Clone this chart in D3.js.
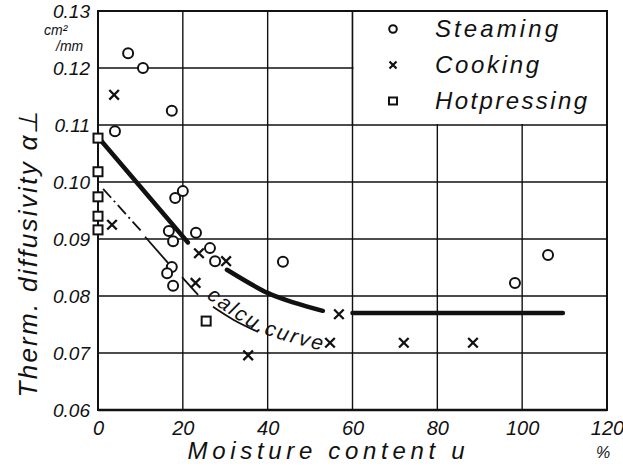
<!DOCTYPE html>
<html>
<head>
<meta charset="utf-8">
<script src="https://cdn.jsdelivr.net/npm/d3@7"></script>
<style>
  html, body { margin: 0; padding: 0; background: #fff; }
  svg text { font-family: "Liberation Sans", Arial, sans-serif; font-style: italic; fill: #111; }
</style>
</head>
<body>
<svg id="chart" width="623" height="470"></svg>
<script>
// Thermal diffusivity across the grain vs. moisture content
const xTicks = [0, 20, 40, 60, 80, 100, 120];
const yTicks = [0.06, 0.07, 0.08, 0.09, 0.10, 0.11, 0.12, 0.13];

// Steaming (circles)
const steamU = [7.1, 10.6, 17.4, 4.0, 18.2, 20.0, 23.1, 16.7, 17.7, 26.4, 27.6, 17.4, 16.3, 17.7, 43.6, 106.1, 98.3];
const steamV = [0.1226, 0.1200, 0.1125, 0.1089, 0.0972, 0.0984, 0.0911, 0.0914, 0.0896, 0.0884, 0.0861, 0.0851, 0.0840, 0.0818, 0.0860, 0.0872, 0.0823];

// Cooking (crosses)
const cookU = [3.8, 3.3, 23.8, 30.2, 23.0, 35.4, 56.8, 54.7, 72.1, 88.4];
const cookV = [0.1153, 0.0925, 0.0875, 0.0861, 0.0823, 0.0696, 0.0768, 0.0718, 0.0718, 0.0718];

// Hotpressing (squares)
const hotU = [0, 0, 0, 0, 0, 25.5];
const hotV = [0.1077, 0.1018, 0.0974, 0.0940, 0.0916, 0.0756];

// Measured trend, drawn in three heavy pieces
const trendA_U = [0.8, 21.2];
const trendA_V = [0.1072, 0.0894];
const trendB_U = [30.4, 40.1, 46.4, 53.0];
const trendB_V = [0.0846, 0.0805, 0.0788, 0.0774];
const trendC_U = [60, 109.6];
const trendC_V = [0.0770, 0.0770];

// Calculated curve: dash-dot start, then thin solid pieces
const calcDash_U = [1.2, 10.4];
const calcDash_V = [0.0988, 0.0912];
const calcSeg1_U = [11.1, 16.5];
const calcSeg1_V = [0.0904, 0.0858];
const calcSeg2_U = [19.8, 23.6];
const calcSeg2_V = [0.0833, 0.0802];
const calcSeg3_U = [27.1, 32, 37.7];
const calcSeg3_V = [0.0781, 0.0758, 0.0737];
// baseline for the curve's label
const calcLabel_U = [25.5, 37.7, 53.5];
const calcLabel_V = [0.0797, 0.0738, 0.0703];

const legendNames = ["Steaming", "Cooking", "Hotpressing"];

const svg = d3.select("#chart");
svg.append("rect").attr("width", 623).attr("height", 470).attr("fill", "#fff");

const x = d3.scaleLinear().domain([0, 120]).range([98, 607]);
const y = d3.scaleLinear().domain([0.06, 0.13]).range([410, 11]);
const zip = (us, vs) => us.map((u, i) => [u, vs[i]]);

// grid
const grid = svg.append("g").attr("stroke", "#111").attr("stroke-width", 1.4);
grid.selectAll("line.v").data(xTicks.slice(1, -1)).join("line")
  .attr("x1", d => x(d)).attr("x2", d => x(d)).attr("y1", y(0.06)).attr("y2", y(0.13));
grid.selectAll("line.h").data(yTicks.slice(1, -1)).join("line")
  .attr("x1", x(0)).attr("x2", x(120)).attr("y1", d => y(d)).attr("y2", d => y(d));

// legend panel clears the grid in the upper right
svg.append("rect")
  .attr("x", x(60) + 1).attr("y", y(0.13))
  .attr("width", x(120) - x(60) - 1).attr("height", y(0.11) - y(0.13) - 1)
  .attr("fill", "#fff");

// frame
svg.append("rect")
  .attr("x", x(0)).attr("y", y(0.13))
  .attr("width", x(120) - x(0)).attr("height", y(0.06) - y(0.13))
  .attr("fill", "none").attr("stroke", "#111").attr("stroke-width", 2);
svg.append("line").attr("x1", x(0)).attr("x2", x(120)).attr("y1", y(0.06)).attr("y2", y(0.06))
  .attr("stroke", "#111").attr("stroke-width", 2.6);
svg.append("line").attr("x1", x(60)).attr("x2", x(60)).attr("y1", y(0.13)).attr("y2", y(0.11))
  .attr("stroke", "#111").attr("stroke-width", 1.4);

// axes labels
const yAxis = d3.axisLeft(y).tickValues(yTicks).tickSize(0).tickPadding(8)
  .tickFormat(d3.format(".2f"));
const gy = svg.append("g").attr("transform", `translate(${x(0)},0)`).call(yAxis);
gy.select(".domain").remove();
gy.selectAll("text").attr("font-size", 19).attr("dy", "0.35em");

const xAxis = d3.axisBottom(x).tickValues(xTicks).tickSize(0).tickPadding(11)
  .tickFormat(d3.format("d"));
const gx = svg.append("g").attr("transform", `translate(0,${y(0.06)})`).call(xAxis);
gx.select(".domain").remove();
gx.selectAll("text").attr("font-size", 20);

svg.append("text").attr("x", x(120) - 4).attr("y", 458).attr("text-anchor", "middle")
  .attr("font-size", 16).text("%");

// units
svg.append("text").attr("x", 44).attr("y", 35).attr("font-size", 14).text("cm²");
svg.append("text").attr("x", 56).attr("y", 51).attr("font-size", 14).text("/mm");

// axis titles
svg.append("text").attr("x", 326).attr("y", 459).attr("text-anchor", "middle")
  .attr("font-size", 24).attr("textLength", 277).attr("lengthAdjust", "spacing")
  .text("Moisture content  u");
svg.append("text").attr("transform", "translate(37,254) rotate(-90)")
  .attr("text-anchor", "middle").attr("font-size", 26)
  .attr("textLength", 287).attr("lengthAdjust", "spacing")
  .text("Therm. diffusivity  α⊥");

// curves
const line = d3.line().x(d => x(d[0])).y(d => y(d[1]));
const smooth = d3.line().x(d => x(d[0])).y(d => y(d[1])).curve(d3.curveCatmullRom);
const thick = [zip(trendA_U, trendA_V), zip(trendB_U, trendB_V), zip(trendC_U, trendC_V)];
svg.selectAll("path.trend").data(thick).join("path").attr("class", "trend")
  .attr("d", d => smooth(d))
  .attr("fill", "none").attr("stroke", "#111").attr("stroke-width", 4.5).attr("stroke-linecap", "round");

svg.append("path").attr("d", line(zip(calcDash_U, calcDash_V)))
  .attr("fill", "none").attr("stroke", "#111").attr("stroke-width", 1.8)
  .attr("stroke-dasharray", "12,4,2,4");
svg.selectAll("path.calc").data([zip(calcSeg1_U, calcSeg1_V), zip(calcSeg2_U, calcSeg2_V), zip(calcSeg3_U, calcSeg3_V)])
  .join("path").attr("class", "calc")
  .attr("d", d => smooth(d))
  .attr("fill", "none").attr("stroke", "#111").attr("stroke-width", 1.8);

svg.append("path").attr("id", "calcLabelPath")
  .attr("d", smooth(zip(calcLabel_U, calcLabel_V)))
  .attr("fill", "none");
svg.append("text").attr("font-size", 21)
  .append("textPath").attr("href", "#calcLabelPath").attr("startOffset", 0)
  .attr("textLength", 128).attr("lengthAdjust", "spacing")
  .text("calcu.curve");

// markers
const crossPath = s => `M${-s},${-s}L${s},${s}M${-s},${s}L${s},${-s}`;
function drawCircles(g, pts, r) {
  g.selectAll("circle").data(pts).join("circle")
    .attr("cx", d => x(d[0])).attr("cy", d => y(d[1])).attr("r", r)
    .attr("fill", "#fff").attr("stroke", "#111").attr("stroke-width", 2);
}
function drawCrosses(g, pts, s) {
  g.selectAll("path").data(pts).join("path")
    .attr("transform", d => `translate(${x(d[0])},${y(d[1])})`)
    .attr("d", crossPath(s)).attr("stroke", "#111").attr("stroke-width", 2.3).attr("fill", "none");
}
function drawSquares(g, pts, s) {
  g.selectAll("rect").data(pts).join("rect")
    .attr("x", d => x(d[0]) - s).attr("y", d => y(d[1]) - s)
    .attr("width", 2 * s).attr("height", 2 * s)
    .attr("fill", "#fff").attr("stroke", "#111").attr("stroke-width", 2);
}
drawCircles(svg.append("g"), zip(steamU, steamV), 5);
drawCrosses(svg.append("g"), zip(cookU, cookV), 4.8);
drawSquares(svg.append("g"), zip(hotU, hotV), 4.5);

// legend
const leg = svg.append("g");
const legY = [29, 65, 101];
leg.append("circle").attr("cx", 393).attr("cy", legY[0]).attr("r", 3.8)
  .attr("fill", "#fff").attr("stroke", "#111").attr("stroke-width", 2);
leg.append("path").attr("transform", `translate(393,${legY[1]})`).attr("d", crossPath(3.5))
  .attr("stroke", "#111").attr("stroke-width", 2.2);
leg.append("rect").attr("x", 389).attr("y", legY[2] - 3.5).attr("width", 8).attr("height", 7)
  .attr("fill", "#fff").attr("stroke", "#111").attr("stroke-width", 2);
const legW = [123, 104, 152];
leg.selectAll("text").data(legendNames).join("text")
  .attr("x", 435).attr("y", (d, i) => legY[i] + 8)
  .attr("font-size", 24)
  .attr("textLength", (d, i) => legW[i]).attr("lengthAdjust", "spacing")
  .text(d => d);
</script>
</body>
</html>
